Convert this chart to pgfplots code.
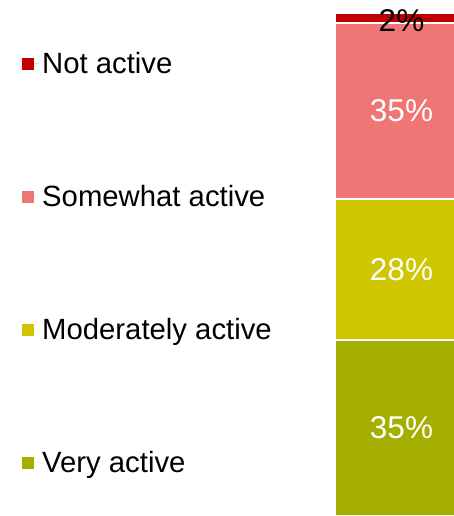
\documentclass[border=0pt]{standalone}
\usepackage{pgfplots}
\pgfplotsset{compat=1.18}
\usepackage{fontspec}
\setmainfont{Liberation Sans}
\definecolor{cnot}{HTML}{C00000}
\definecolor{csome}{HTML}{F07676}
\definecolor{cmod}{HTML}{CFC500}
\definecolor{cvery}{HTML}{A4AF00}
\begin{document}
\begin{tikzpicture}
\begin{axis}[
  name=ax,
  scale only axis, width=454pt, height=516pt,
  xmin=0, xmax=454, ymin=0, ymax=102.6,
  hide axis,
  ybar stacked, bar width=132pt,
  nodes near coords, point meta=explicit symbolic,
  every node near coord/.append style={anchor=center, font=\fontsize{31.5}{36}\selectfont},
  reverse legend,
  legend image code/.code={\fill[#1, draw=none] (0pt,-6pt) rectangle (12pt,6pt); \path[draw=none] (0pt,0pt) -- (17pt,0pt);},
  legend style={at={(0,1)}, anchor=north west, xshift=19pt, yshift=-47pt,
    draw=none, fill=none, row sep=104.4pt, font=\fontsize{29.3}{34}\selectfont,
    nodes={inner sep=3pt}},
  legend cell align=left,
]
\addplot[fill=cvery, draw=white, line width=1.5pt, every node near coord/.append style={text=white}] coordinates {(401.5,35) [35\%]};
\addplot[fill=cmod, draw=white, line width=1.5pt, every node near coord/.append style={text=white}] coordinates {(401.5,28) [28\%]};
\addplot[fill=csome, draw=white, line width=1.5pt, every node near coord/.append style={text=white}] coordinates {(401.5,35) [35\%]};
\addplot[fill=cnot, draw=white, line width=1.5pt, every node near coord/.append style={yshift=-2pt, text=black}] coordinates {(401.5,2) [2\%]};
\legend{Very active, Moderately active, Somewhat active, Not active}
\end{axis}
\pgfresetboundingbox
\useasboundingbox (ax.south west) rectangle (ax.north east);
\end{tikzpicture}
\end{document}
